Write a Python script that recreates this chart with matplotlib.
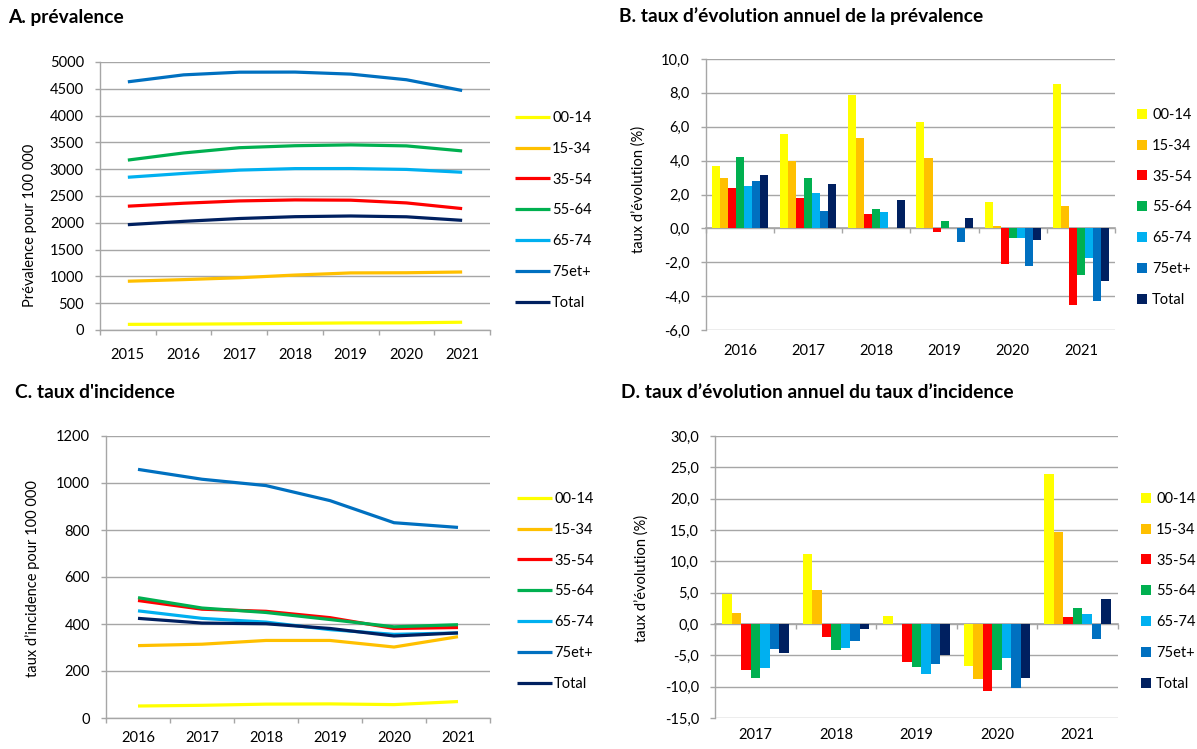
import matplotlib
matplotlib.use("Agg")
import matplotlib.pyplot as plt
from matplotlib.ticker import FuncFormatter, FixedLocator
import numpy as np

plt.rcParams['font.family'] = ['Lato', 'DejaVu Sans']

# ---------------- data ----------------
groups = ["00-14", "15-34", "35-54", "55-64", "65-74", "75et+", "Total"]
colors = ["#FFFF00", "#FFC000", "#FF0000", "#00B050", "#00B0F0", "#0070C0", "#002060"]

years_a = ["2015", "2016", "2017", "2018", "2019", "2020", "2021"]
prev_0014 = [105, 109, 115, 124, 132, 134, 145]
prev_1534 = [910, 940, 975, 1025, 1065, 1068, 1082]
prev_3554 = [2310, 2365, 2408, 2427, 2422, 2371, 2265]
prev_5564 = [3170, 3303, 3401, 3438, 3454, 3435, 3341]
prev_6574 = [2850, 2921, 2983, 3011, 3012, 2996, 2943]
prev_75 = [4630, 4760, 4810, 4812, 4774, 4669, 4468]
prev_total = [1965, 2027, 2080, 2114, 2127, 2112, 2046]

years_b = ["2016", "2017", "2018", "2019", "2020", "2021"]
evo_prev_0014 = [3.7, 5.6, 7.85, 6.3, 1.55, 8.55]
evo_prev_1534 = [2.95, 3.95, 5.35, 4.15, 0.15, 1.3]
evo_prev_3554 = [2.4, 1.8, 0.85, -0.2, -2.1, -4.5]
evo_prev_5564 = [4.2, 2.95, 1.15, 0.45, -0.55, -2.75]
evo_prev_6574 = [2.5, 2.1, 0.95, 0.0, -0.55, -1.75]
evo_prev_75 = [2.8, 1.05, 0.03, -0.8, -2.2, -4.3]
evo_prev_total = [3.15, 2.6, 1.65, 0.6, -0.7, -3.1]

years_c = ["2016", "2017", "2018", "2019", "2020", "2021"]
inc_0014 = [51, 54, 59, 60, 57, 70]
inc_1534 = [308, 314, 330, 330, 302, 346]
inc_3554 = [500, 463, 454, 427, 381, 385]
inc_5564 = [512, 468, 449, 419, 388, 397]
inc_6574 = [456, 424, 408, 376, 356, 362]
inc_75 = [1058, 1016, 989, 925, 831, 811]
inc_total = [424, 404, 401, 381, 349, 362]

years_d = ["2017", "2018", "2019", "2020", "2021"]
evo_inc_0014 = [4.85, 11.2, 1.3, -6.7, 23.95]
evo_inc_1534 = [1.75, 5.35, 0.0, -8.8, 14.65]
evo_inc_3554 = [-7.4, -2.0, -6.0, -10.65, 1.1]
evo_inc_5564 = [-8.65, -4.1, -6.85, -7.35, 2.5]
evo_inc_6574 = [-6.95, -3.9, -7.9, -5.45, 1.6]
evo_inc_75 = [-4.0, -2.7, -6.35, -10.25, -2.35]
evo_inc_total = [-4.6, -0.8, -5.0, -8.65, 3.95]

W, H = 1197, 749
fig = plt.figure(figsize=(W / 100, H / 100), dpi=100)

GRID = "#A6A6A6"
FS = 10.5
TFS = 13.8


def px_axes(left, top, right, bottom):
    return fig.add_axes([left / W, 1 - bottom / H, (right - left) / W, (bottom - top) / H])


def base_style(ax):
    for s in ["top", "right"]:
        ax.spines[s].set_visible(False)
    ax.spines["left"].set_color(GRID)
    ax.spines["bottom"].set_color(GRID)
    ax.spines["left"].set_linewidth(1.0)
    ax.spines["bottom"].set_linewidth(1.0)
    ax.yaxis.grid(True, color=GRID, linewidth=1.0)
    ax.set_axisbelow(True)
    ax.tick_params(axis="y", length=3.6, width=1.0, color=GRID, pad=8, labelsize=FS)


def line_panel(ax, years, series, ymax, ystep, xpad):
    base_style(ax)
    x = np.arange(len(years))
    lines = []
    for vals, c in zip(series, colors):
        ln, = ax.plot(x, vals, color=c, lw=2.3, solid_capstyle="butt")
        lines.append(ln)
    ax.set_xlim(-0.5, len(years) - 0.5)
    ax.set_ylim(0, ymax)
    ax.set_yticks(np.arange(0, ymax + 1, ystep))
    ax.set_xticks(x)
    ax.set_xticklabels(years)
    ax.xaxis.set_minor_locator(FixedLocator(np.arange(-0.5, len(years), 1.0)))
    ax.tick_params(axis="x", which="major", length=0, pad=xpad, labelsize=FS)
    ax.tick_params(axis="x", which="minor", length=3.6, width=1.0, color=GRID)
    return lines


def bar_panel(ax, years, series, ymin, ymax, ystep, xpad):
    base_style(ax)
    ax.spines["bottom"].set_visible(False)
    x = np.arange(len(years))
    w = 0.118
    bars = []
    for i, (vals, c) in enumerate(zip(series, colors)):
        b = ax.bar(x + (i - 3) * w, vals, width=w, color=c, linewidth=0)
        bars.append(b)
    ax.set_xlim(-0.5, len(years) - 0.5)
    ax.set_ylim(ymin, ymax)
    ax.set_yticks(np.arange(ymin, ymax + 0.01, ystep))
    ax.yaxis.set_major_formatter(FuncFormatter(lambda v, p: f"{v:.1f}".replace(".", ",")))
    ax.set_xticks(x)
    ax.set_xticklabels(years)
    ax.tick_params(axis="x", which="major", length=0, pad=xpad, labelsize=FS)
    loc0 = (0 - ymin) / (ymax - ymin)
    sec = ax.secondary_xaxis(loc0)
    sec.set_xticks(np.arange(-0.5, len(years), 1.0))
    sec.tick_params(axis="x", length=3.6, width=1.0, color=GRID, labelbottom=False)
    sec.spines["bottom"].set_color(GRID)
    sec.spines["bottom"].set_linewidth(1.2)
    return bars


LINE_LEG = dict(frameon=False, fontsize=FS, handlelength=2.4, handletextpad=0.15,
                labelspacing=1.15, borderpad=0, borderaxespad=0, loc="upper left")
BAR_LEG = dict(frameon=False, fontsize=FS, handlelength=0.68, handleheight=0.68,
               handletextpad=0.35, labelspacing=1.15, borderpad=0, borderaxespad=0,
               loc="upper left")

# ---------------- Panel A ----------------
axA = px_axes(100, 62, 490, 330)
linesA = line_panel(axA, years_a,
                    [prev_0014, prev_1534, prev_3554, prev_5564, prev_6574, prev_75, prev_total],
                    5000, 500, 13)
axA.set_ylabel("Prévalence pour 100 000", fontsize=FS)
axA.yaxis.set_label_coords(-0.162, 0.39)
fig.text(8 / W, 1 - 18 / H, "A. prévalence", fontsize=TFS, fontweight="bold", va="center", ha="left")
fig.legend(linesA, groups, bbox_to_anchor=(515 / W, 1 - 111 / H), **LINE_LEG)

# ---------------- Panel B ----------------
axB = px_axes(706, 59, 1115, 330)
barsB = bar_panel(axB, years_b,
                  [evo_prev_0014, evo_prev_1534, evo_prev_3554, evo_prev_5564,
                   evo_prev_6574, evo_prev_75, evo_prev_total],
                  -6, 10, 2, 10)
axB.set_ylabel("taux d’évolution (%)", fontsize=FS)
axB.yaxis.set_label_coords(-0.147, 0.517)
fig.text(619 / W, 1 - 16 / H, "B. taux d’évolution annuel de la prévalence", fontsize=TFS,
         fontweight="bold", va="center", ha="left")
fig.legend(barsB, groups, bbox_to_anchor=(1137 / W, 1 - 108 / H), **BAR_LEG)

# ---------------- Panel C ----------------
axC = px_axes(106, 436, 490, 718)
linesC = line_panel(axC, years_c,
                    [inc_0014, inc_1534, inc_3554, inc_5564, inc_6574, inc_75, inc_total],
                    1200, 200, 9)
axC.set_ylabel("taux d’incidence pour 100 000", fontsize=FS)
axC.yaxis.set_label_coords(-0.172, 0.496)
fig.text(15 / W, 1 - 393 / H, "C. taux d'incidence", fontsize=TFS, fontweight="bold",
         va="center", ha="left")
fig.legend(linesC, groups, bbox_to_anchor=(517 / W, 1 - 492 / H), **LINE_LEG)

# ---------------- Panel D ----------------
axD = px_axes(715, 436, 1118, 718)
barsD = bar_panel(axD, years_d,
                  [evo_inc_0014, evo_inc_1534, evo_inc_3554, evo_inc_5564,
                   evo_inc_6574, evo_inc_75, evo_inc_total],
                  -15, 30, 5, 7)
axD.set_ylabel("taux d’évolution (%)", fontsize=FS)
axD.yaxis.set_label_coords(-0.164, 0.496)
fig.text(621 / W, 1 - 393 / H, "D. taux d’évolution annuel du taux d’incidence", fontsize=TFS,
         fontweight="bold", va="center", ha="left")
fig.legend(barsD, groups, bbox_to_anchor=(1141 / W, 1 - 492 / H), **BAR_LEG)

fig.savefig("out.png", dpi=100)
